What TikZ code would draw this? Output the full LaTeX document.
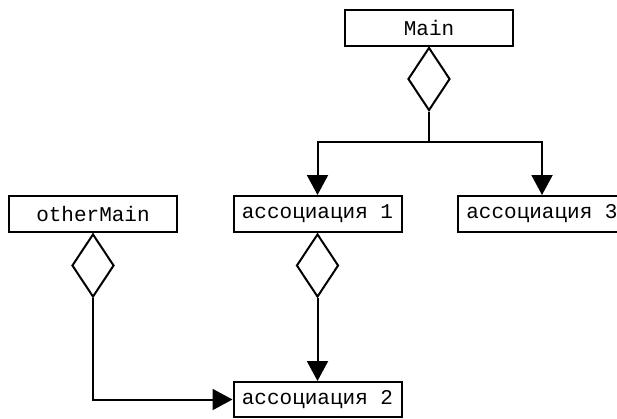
\documentclass[tikz,border=0pt]{standalone}
\usepackage{fontspec}
\setmonofont{Liberation Mono}
\usetikzlibrary{shapes.geometric,arrows.meta}
\begin{document}
\begin{tikzpicture}[x=1pt,y=-1pt,
  line width=2pt,
  classbox/.style={draw,rectangle,inner sep=0pt,minimum width=168pt,minimum height=36pt,
    font=\ttfamily\fontsize{21}{25}\selectfont},
  aggr/.style={draw,diamond,inner sep=0pt,minimum width=42pt,minimum height=63pt,anchor=north},
  link/.style={-{Triangle[width=21pt,length=20pt]}}]
  \useasboundingbox (0,0) rectangle (617,418);
  % class boxes
  \node[classbox] (main) at (429,27.5) {Main};
  \node[classbox] (other) at (93,214) {otherMain};
  \node[classbox] (a1) at (317.5,214) {ассоциация 1};
  \node[classbox] (a3) at (542,214) {ассоциация 3};
  \node[classbox,minimum height=35pt] (a2) at (317.5,399.5) {ассоциация 2};
  % aggregation diamonds
  \node[aggr] (dmain) at (main.south) {};
  \node[aggr] (dother) at (other.south) {};
  \node[aggr] (da1) at (a1.south) {};
  % connectors
  \coordinate (j) at (429,142);
  \draw (dmain.south) -- (j);
  \draw[link] (j) -| (a1.north);
  \draw[link] (j) -| (a3.north);
  \draw[link] (da1.south) -- (a2.north);
  \draw[link] (dother.south) |- (a2.west);
\end{tikzpicture}
\end{document}
